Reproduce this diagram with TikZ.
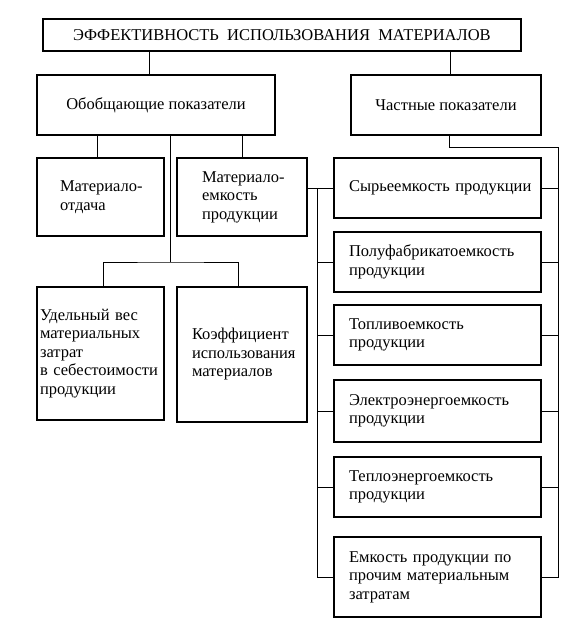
\documentclass[tikz,border=0pt]{standalone}
\usepackage{fontspec}
\setmainfont{Liberation Serif}
\hyphenpenalty=10000
\exhyphenpenalty=10000

\tikzset{
  blok/.style={draw, line width=1.4pt, inner sep=0pt, font=\fontsize{16.5}{18.5}\selectfont},
  lev/.style={blok, align=left},
  pok/.style={lev, text width=177pt, inner xsep=15pt},
  svyaz/.style={line width=0.9pt},
}

\begin{document}
\begin{tikzpicture}[x=1pt,y=-1pt]

\useasboundingbox (0,0) rectangle (564,624);

% verkh
\node[blok, minimum width=478pt, minimum height=32pt] (eff) at (282,35) {ЭФФЕКТИВНОСТЬ\ \ ИСПОЛЬЗОВАНИЯ\ \ МАТЕРИАЛОВ};

\node[blok, minimum width=238pt, minimum height=60pt] (obob) at (156,105) {Обобщающие показатели};
\node[blok, minimum width=190pt, minimum height=60pt] (chast) at (446,105) {Частные показатели};

% obobshchayushchie
\node[lev, text width=81pt, inner xsep=23pt, minimum height=78pt] (otd) at (100.5,197) {Материало-\\отдача};
\node[lev, text width=80pt, inner xsep=25pt, minimum height=78pt] (emk) at (242,197) {Материало-\\емкость\\продукции};
\node[lev, text width=121pt, inner xsep=3pt, minimum height=133pt] (udv) at (100.5,353.5) {Удельный вес\\материальных\\затрат\\в себестоимости\\продукции};
\node[lev, text width=100pt, inner xsep=15pt, minimum height=135pt] (koef) at (242,354.5) {Коэффициент\\использования\\материалов};

% chastnye
\node[pok, minimum height=60pt] (syr) at (437.5,188) {Сырьеемкость~продукции};
\node[pok, minimum height=60pt] (pf) at (437.5,262) {Полуфабрикатоемкость\\продукции};
\node[pok, minimum height=60pt] (topl) at (437.5,335) {Топливоемкость\\продукции};
\node[pok, minimum height=62pt] (el) at (437.5,411) {Электроэнергоемкость\\продукции};
\node[pok, minimum height=60pt] (tepl) at (437.5,487) {Теплоэнергоемкость\\продукции};
\node[pok, minimum height=80pt] (proch) at (437.5,577) {Емкость продукции по\\прочим материальным\\затратам};

\coordinate (razv) at (170.5,262);
\coordinate (lshina) at (317,0);
\coordinate (pshina) at (558,147);

\draw[svyaz] ([xshift=-7pt]obob.north) -- ([xshift=-7pt]obob.north |- eff.south);
\draw[svyaz] ([xshift=4pt]chast.north) -- ([xshift=4pt]chast.north |- eff.south);

\draw[svyaz] ([xshift=-3.5pt]otd.north) -- ([xshift=-3.5pt]otd.north |- obob.south);
\draw[svyaz] (emk.north) -- (emk.north |- obob.south);
\draw[svyaz] (obob.south -| razv) -- (razv);
\draw[svyaz] ([xshift=2.5pt]udv.north) |- (razv) -| ([xshift=-4pt]koef.north);

\draw[svyaz] (syr.west -| emk.east) -- (syr.west);
\draw[svyaz] (lshina |- syr.west) -- (lshina |- proch.west) -- (proch.west);
\draw[svyaz] (pf.west) -- (pf.west -| lshina);
\draw[svyaz] (topl.west) -- (topl.west -| lshina);
\draw[svyaz] (el.west) -- (el.west -| lshina);
\draw[svyaz] (tepl.west) -- (tepl.west -| lshina);

\draw[svyaz] ([xshift=3pt]chast.south) |- (pshina) -- (pshina |- proch.east) -- (proch.east);
\draw[svyaz] (syr.east) -- (syr.east -| pshina);
\draw[svyaz] (pf.east) -- (pf.east -| pshina);
\draw[svyaz] (topl.east) -- (topl.east -| pshina);
\draw[svyaz] (el.east) -- (el.east -| pshina);
\draw[svyaz] (tepl.east) -- (tepl.east -| pshina);

\end{tikzpicture}
\end{document}
